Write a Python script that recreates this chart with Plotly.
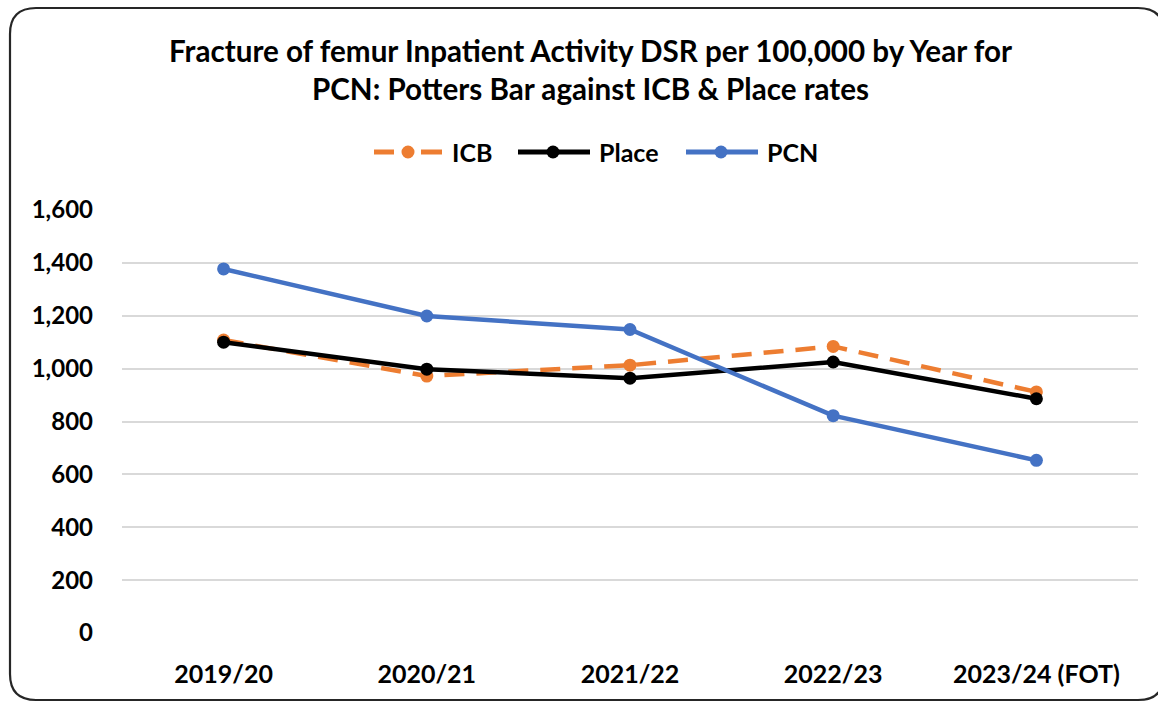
import plotly.graph_objects as go

years = ["2019/20", "2020/21", "2021/22", "2022/23", "2023/24 (FOT)"]
icb = [1108, 972, 1013, 1084, 912]
place = [1100, 998, 964, 1025, 886]
pcn = [1377, 1199, 1148, 822, 653]

title_text = "Fracture of femur Inpatient Activity DSR per 100,000 by Year for<br>PCN: Potters Bar against ICB &amp; Place rates"
colors = {"ICB": "#ED7D31", "Place": "#000000", "PCN": "#4472C4"}

W, H = 1158, 703
L, R, T, B = 122, 20, 210, 70
PW, PH = W - L - R, H - T - B
FONT = "Lato"


def px(x):
    return (x - L) / PW


def py(y):
    return (H - B - y) / PH


fig = go.Figure()
fig.add_trace(go.Scatter(x=years, y=icb, name="ICB", mode="lines+markers",
                         line=dict(color=colors["ICB"], width=4.5, dash="20px,12px"),
                         marker=dict(size=13, color=colors["ICB"])))
fig.add_trace(go.Scatter(x=years, y=place, name="Place", mode="lines+markers",
                         line=dict(color=colors["Place"], width=4.5),
                         marker=dict(size=13, color=colors["Place"])))
fig.add_trace(go.Scatter(x=years, y=pcn, name="PCN", mode="lines+markers",
                         line=dict(color=colors["PCN"], width=4.5),
                         marker=dict(size=13, color=colors["PCN"])))

shapes = []
# rounded border
x0, x1, y0, y1, r = 10, 1164, 8, 700, 26
path = (f"M {px(x0+r)},{py(y0)} L {px(x1-r)},{py(y0)} Q {px(x1)},{py(y0)} {px(x1)},{py(y0+r)} "
        f"L {px(x1)},{py(y1-r)} Q {px(x1)},{py(y1)} {px(x1-r)},{py(y1)} "
        f"L {px(x0+r)},{py(y1)} Q {px(x0)},{py(y1)} {px(x0)},{py(y1-r)} "
        f"L {px(x0)},{py(y0+r)} Q {px(x0)},{py(y0)} {px(x0+r)},{py(y0)} Z")
shapes.append(dict(type="path", xref="paper", yref="paper", path=path,
                   line=dict(color="#262626", width=2.2), layer="below"))

# manual legend
leg_y = 152
legend_items = [("ICB", 373, 450), ("Place", 518, 597), ("PCN", 686, 765)]
annotations = []
for name, lx, tx in legend_items:
    c = colors[name]
    if name == "ICB":
        segs = [(lx + 1, lx + 21), (lx + 48, lx + 69)]
    else:
        segs = [(lx, lx + 72)]
    for a, b in segs:
        shapes.append(dict(type="line", xref="paper", yref="paper",
                           x0=px(a), x1=px(b), y0=py(leg_y), y1=py(leg_y),
                           line=dict(color=c, width=5)))
    cx = lx + 35
    rr = 6.5
    shapes.append(dict(type="circle", xref="paper", yref="paper",
                       x0=px(cx - rr), x1=px(cx + rr), y0=py(leg_y - rr), y1=py(leg_y + rr),
                       fillcolor=c, line=dict(color=c, width=0)))
    annotations.append(dict(text=f"<b>{name}</b>", xref="paper", yref="paper",
                            x=px(tx), y=py(leg_y), xanchor="left", yanchor="middle",
                            showarrow=False, font=dict(family=FONT, size=25, color="#000000")))

annotations.append(dict(text=f"<b>{title_text}</b>", xref="paper", yref="paper",
                        x=px(590), y=py(69), xanchor="center", yanchor="middle",
                        showarrow=False, align="center",
                        font=dict(family=FONT, size=29.6, color="#000000")))

fig.update_layout(
    width=W, height=H,
    margin=dict(l=L, r=R, t=T, b=B, pad=0),
    paper_bgcolor="white", plot_bgcolor="white",
    showlegend=False,
    shapes=shapes, annotations=annotations,
    font=dict(family=FONT, color="#000000"),
    xaxis=dict(type="category", range=[-0.5, 4.5], showgrid=False, showline=False, zeroline=False,
               ticks="", ticklabelstandoff=24,
               tickfont=dict(family=FONT, size=25, color="#000000", weight="bold")),
    yaxis=dict(range=[0, 1600], tickvals=[0, 200, 400, 600, 800, 1000, 1200, 1400, 1600],
               ticktext=["0", "200", "400", "600", "800", "1,000", "1,200", "1,400", "1,600"],
               showgrid=True, gridcolor="#D9D9D9", gridwidth=2, zeroline=False,
               showline=False, ticks="", ticklabelstandoff=28,
               tickfont=dict(family=FONT, size=24, color="#000000", weight="bold")),
)

fig.write_html("out.html", config={"displayModeBar": False},
               post_script="document.body.style.margin='0';document.body.style.padding='0';")
